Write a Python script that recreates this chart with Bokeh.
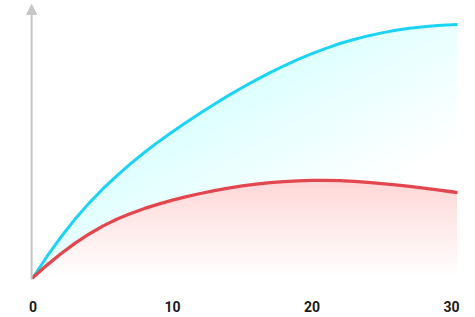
import numpy as np
from bokeh.plotting import figure
from bokeh.models import Range1d, FixedTicker, Arrow, NormalHead
from bokeh.embed import file_html
from bokeh.resources import INLINE

# ---- data ----
x_vals = list(range(0, 32))
cyan_vals = [0, 8.3, 16.0, 23.0, 29.3, 35.0, 40.2, 45.0, 49.5, 53.7, 57.6, 61.4, 65.0, 68.5, 71.9, 75.1,
             78.1, 81.0, 83.7, 86.2, 88.5, 90.6, 92.5, 94.1, 95.5, 96.7, 97.7, 98.5, 99.1, 99.6, 99.9, 100.1]
red_vals = [0, 4.9, 9.4, 13.5, 17.1, 20.3, 23.0, 25.3, 27.3, 29.0, 30.6, 32.0, 33.2, 34.3, 35.3, 36.2,
            36.9, 37.5, 37.9, 38.2, 38.4, 38.4, 38.3, 38.0, 37.6, 37.1, 36.6, 36.0, 35.3, 34.6, 33.9, 33.2]
x_ticks = [0, 10, 20, 30]
x_tick_labels = ["0", "10", "20", "30"]

CYAN = "#1dd3f4"
CYAN_FILL = "#00bcff"
RED = "#e2464e"
RED_FILL = "#c23a4a"

X_END = 30.43

p = figure(width=475, height=317, output_backend="svg", toolbar_location=None,
           x_range=Range1d(-2.33, X_END), y_range=Range1d(-2.77, 109.5),
           min_border_left=0, min_border_right=18, min_border_top=0, min_border_bottom=33)
p.outline_line_color = None
p.grid.visible = False
p.yaxis.visible = False
p.background_fill_color = "white"
p.border_fill_color = "white"

xs = np.array(x_vals, dtype=float)
cy = np.array(cyan_vals, dtype=float)
rd = np.array(red_vals, dtype=float)


def diag_gradient(xs, ys, color, ymax, t_lo, t_end, total_alpha, n=40):
    a = 1 - (1 - total_alpha) ** (1.0 / n)
    for k in range(n):
        tk = t_lo + (t_end - t_lo) * (k + 0.5) / n
        y1 = np.clip(ymax * (1 + xs / X_END - 2 * tk), 0, ys)
        p.varea(x=xs, y1=y1, y2=ys, fill_color=color, fill_alpha=a)


def vert_gradient(xs, ys, color, ymax, total_alpha, n=40):
    a = 1 - (1 - total_alpha) ** (1.0 / n)
    for k in range(n):
        level = ymax * (k + 0.5) / n
        y1 = np.minimum(np.full_like(ys, level), ys)
        p.varea(x=xs, y1=y1, y2=ys, fill_color=color, fill_alpha=a)


# cyan area gradient
diag_gradient(xs, cy, CYAN_FILL, max(cyan_vals), 0.30, 0.74, 0.20)
# white under red curve, then red gradient
p.varea(x=xs, y1=np.zeros_like(rd), y2=rd, fill_color="white", fill_alpha=1.0)
vert_gradient(xs, rd, RED_FILL, max(red_vals), 0.14)

p.line(xs, cy, line_color=CYAN, line_width=3, line_join="round", line_cap="round")
p.line(xs, rd, line_color=RED, line_width=3.3, line_join="round", line_cap="round")

# vertical axis arrow
p.add_layout(Arrow(end=NormalHead(size=10, fill_color="#c6c6c6", line_color="#c6c6c6", line_width=1),
                   x_start=-0.1, y_start=-0.8, x_end=-0.1, y_end=107.9,
                   line_color="#c6c6c6", line_width=2))

ax = p.xaxis[0]
ax.ticker = FixedTicker(ticks=x_ticks)
ax.major_label_overrides = {t: s for t, s in zip(x_ticks, x_tick_labels)}
ax.axis_line_color = None
ax.major_tick_line_color = None
ax.minor_tick_line_color = None
ax.major_label_standoff = 10
ax.major_label_text_font = "Roboto"
ax.major_label_text_font_style = "bold"
ax.major_label_text_font_size = "14px"
ax.major_label_text_color = "#1a1a1a"

open("out.html", "w").write(file_html(p, INLINE))
